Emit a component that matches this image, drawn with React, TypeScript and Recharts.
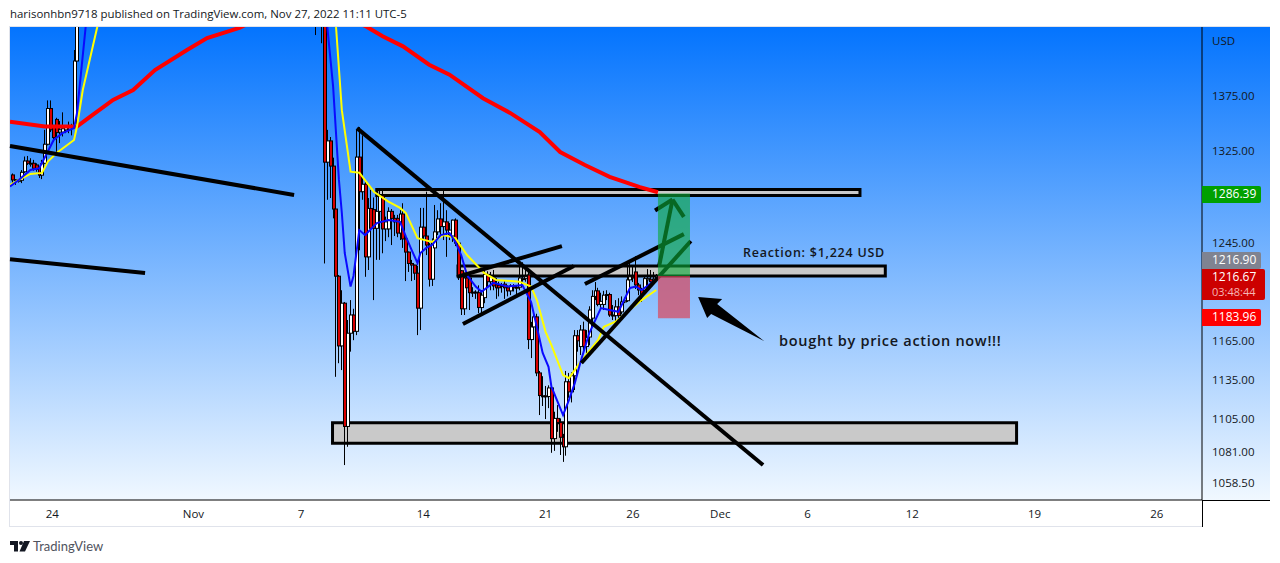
import React from 'react';
import {
  ComposedChart,
  Bar,
  Line,
  XAxis,
  YAxis,
  ReferenceArea,
  ReferenceLine,
  ReferenceDot,
} from 'recharts';

// 4h bars, [open, high, low, close]. Bars in between sit above the visible range.
const leftStart = 1;
const leftCandles = [
  [1302.7, 1304, 1294, 1298.3], [1298.3, 1299, 1294, 1298], [1298, 1299, 1296, 1298],
  [1298, 1307, 1295.5, 1305], [1305.5, 1319, 1304.5, 1315], [1315, 1319.5, 1311.5, 1313],
  [1313, 1317.5, 1310, 1313], [1313, 1316, 1306.5, 1308.5], [1311.5, 1313, 1305.5, 1307.5],
  [1308.5, 1310, 1300, 1302.5], [1302.5, 1316, 1299, 1312.5], [1313, 1343, 1312.5, 1330],
  [1330, 1370, 1329, 1362.5], [1362.5, 1370, 1341, 1343], [1346.5, 1347.5, 1332, 1336],
  [1352.5, 1354, 1323, 1340.5], [1341, 1351, 1331, 1343], [1341, 1359, 1337, 1344],
  [1343, 1347, 1340, 1346.5], [1346.5, 1350.5, 1340, 1346], [1346, 1348.5, 1338, 1346],
  [1346, 1417.5, 1345, 1407], [1407, 1450, 1405, 1445],
];

const midStart = 105;
const midCandles = [
  [1500, 1510, 1431.9, 1490], [1495, 1505, 1470, 1480], [1490, 1500, 1424, 1480],
  [1480, 1490, 1227, 1314], [1314, 1343, 1281, 1333], [1333, 1336.5, 1282.5, 1310.5],
  [1310.5, 1318, 1265, 1273], [1273, 1274, 1136.5, 1216.5], [1216.5, 1217.5, 1147, 1160.5],
  [1160.5, 1205, 1141.7, 1194.5], [1194.5, 1195.5, 1070.7, 1099], [1099, 1181, 1084, 1170.5],
  [1170.5, 1197, 1156, 1185], [1185, 1190, 1165, 1172], [1172, 1343, 1169, 1318.5],
  [1318.5, 1345.5, 1238, 1288], [1288, 1338, 1281, 1294.5], [1294.5, 1298, 1216, 1232.5],
  [1232.5, 1282.5, 1221.6, 1273.5], [1273.5, 1289.5, 1246.6, 1256.5], [1272.5, 1283, 1197, 1256.5],
  [1256.5, 1288, 1230, 1271], [1271, 1289.5, 1230, 1284.5], [1284.5, 1289.5, 1235.5, 1256],
  [1256, 1266.5, 1245.7, 1262], [1256, 1274.5, 1249, 1271], [1271, 1273, 1242.4, 1265],
  [1265, 1268, 1250, 1262], [1265, 1268, 1249, 1252.5], [1252.5, 1272, 1246.6, 1268.7],
  [1268.7, 1278, 1240, 1247.5], [1247.5, 1250, 1212.5, 1236.5], [1236.5, 1237, 1220, 1227],
  [1227, 1230, 1212.5, 1225.7], [1225.7, 1226, 1213.4, 1219], [1219, 1225, 1169, 1190.5],
  [1190.5, 1274, 1173, 1257.5], [1257.5, 1274, 1246.6, 1250], [1250, 1288, 1234, 1242.4],
  [1242.4, 1244, 1208, 1214], [1214, 1248, 1208.5, 1245], [1240, 1276.5, 1240, 1253.5],
  [1253.5, 1272, 1250.8, 1264.5], [1264.5, 1278, 1250.8, 1258], [1258, 1289.5, 1246.6, 1262],
  [1262, 1272, 1232.5, 1255], [1251, 1261, 1246.6, 1255], [1250, 1264, 1245, 1263.5],
  [1263.5, 1265, 1241.5, 1244], [1244, 1245, 1213.4, 1216], [1221, 1221.6, 1185, 1190],
  [1190, 1219.5, 1185, 1215], [1215, 1220, 1203.5, 1207], [1215, 1216.7, 1189, 1203],
  [1203.5, 1207.5, 1199.5, 1203], [1203, 1205, 1198, 1203.5], [1203, 1209, 1186.5, 1191],
  [1191, 1205, 1186.5, 1201], [1199, 1221.6, 1194.5, 1218], [1218, 1220.5, 1207.5, 1212],
  [1212, 1220, 1205, 1216], [1215, 1221.6, 1205, 1208.5], [1209.5, 1215, 1198, 1207],
  [1209, 1212, 1200, 1207], [1209, 1211, 1203, 1208], [1210, 1213, 1198, 1207],
  [1207, 1209, 1200, 1204.5], [1204.5, 1210, 1201, 1208.5], [1208, 1210, 1204, 1207],
  [1207.5, 1209, 1201, 1207], [1207.5, 1226, 1205, 1215], [1214.5, 1228, 1212, 1214.5],
  [1214.5, 1224, 1212, 1216], [1217.5, 1221.6, 1158, 1165.5], [1165.5, 1179.5, 1151, 1175.5],
  [1175.5, 1187.5, 1173, 1183.5], [1183.5, 1186, 1137, 1139.5], [1139.5, 1141, 1107.5, 1122.2],
  [1122, 1137, 1114.3, 1121.5], [1121.5, 1129.5, 1104.5, 1122], [1121.5, 1130, 1112.7, 1128],
  [1128, 1130, 1079.6, 1090], [1090, 1110, 1081, 1105], [1105, 1115, 1095, 1102],
  [1102, 1105, 1078, 1091], [1091, 1093.5, 1073, 1084], [1084, 1141, 1077.5, 1132.7],
  [1132.7, 1139.5, 1120.5, 1125], [1125, 1140, 1117, 1137.3], [1137.3, 1173, 1126.4, 1168.5],
  [1168.5, 1173, 1156, 1164.5], [1160, 1177, 1153.4, 1173], [1173, 1179.7, 1155.7, 1160],
  [1160, 1173, 1151, 1167], [1167.5, 1192, 1161, 1189], [1182.5, 1205, 1177, 1200],
  [1200, 1211.7, 1197, 1204.5], [1204.5, 1207, 1192, 1193.5], [1193.5, 1203, 1189, 1196],
  [1193.5, 1204.5, 1189, 1201], [1201, 1205, 1197, 1201.5], [1201.5, 1203, 1183.5, 1185],
  [1185, 1193, 1181, 1184.5], [1184.5, 1197, 1179.5, 1191.5], [1191.5, 1198.5, 1181, 1184.5],
  [1187.5, 1200, 1185.5, 1195.5], [1195.5, 1199, 1194.5, 1196.5], [1196.5, 1226.5, 1195.5, 1213.5],
  [1213.5, 1228, 1212.5, 1216], [1216, 1225.7, 1211.7, 1215], [1220, 1233, 1206, 1209.3],
  [1209.3, 1211, 1201, 1205.2], [1205.2, 1207, 1195.5, 1201], [1205, 1217.5, 1203, 1214.5],
  [1213.5, 1222.4, 1208.5, 1214.5], [1214, 1221.6, 1210, 1212], [1212, 1220, 1211, 1214],
  [1214, 1218.3, 1212.5, 1216.67],
];

// moving averages as [bar, price]
const slowMa = [
  [0, 1350.5], [12, 1346], [23, 1346], [27, 1354], [35.4, 1370.4], [42.3, 1379.7], [49.8, 1398.4],
  [60.8, 1417.5], [67.7, 1429], [79, 1439], [100, 1470], [122.5, 1440], [128, 1430.7], [135, 1421],
  [144, 1403.5], [151, 1394], [162.5, 1372], [171.8, 1358.5], [182, 1341], [189, 1323],
  [197.5, 1311.5], [206, 1301], [216.4, 1292], [222.6, 1287.5],
];
const blueMa = [
  [0, 1292.5], [3, 1298.3], [7, 1307], [10, 1308.5], [13, 1323.5], [15, 1333.8], [18, 1340],
  [22, 1344.6], [23, 1358.3], [26, 1440], [60, 1560], [100, 1520], [109, 1440], [111, 1383],
  [113, 1298.3], [114, 1269.6], [115, 1235.7], [117, 1208], [118, 1216.7], [120, 1255],
  [122, 1250.8], [126, 1261], [130, 1263.6], [134, 1262], [136, 1249.4], [138, 1238.2],
  [140, 1227.3], [141, 1235.7], [143, 1240], [145, 1242.4], [148, 1250.8], [151, 1252.5],
  [153, 1245], [155, 1234], [157, 1217.5], [160, 1208], [162, 1203.8], [166, 1211], [171, 1208],
  [176, 1209.3], [179, 1195.6], [181, 1175.4], [183, 1155], [185, 1144.2], [186, 1128.9],
  [190, 1107.5], [192, 1118.8], [194, 1131.5], [196, 1148], [199, 1170.6], [203, 1190.6],
  [206, 1189], [209, 1187.6], [213, 1206.9], [215, 1208], [217, 1205.2], [221, 1212],
];
const yellowMa = [
  [0, 1293.9], [3, 1298.3], [7, 1303.6], [11, 1304.5], [13, 1314.5], [16, 1322.2], [22, 1333.8],
  [23, 1345.8], [25, 1379.7], [30, 1440], [60, 1600], [95, 1560], [112, 1440], [114, 1361],
  [117, 1305.6], [120, 1304.7], [125, 1288], [130, 1279.4], [134, 1274], [136, 1269.6],
  [140, 1248.2], [145, 1245], [149, 1250.8], [153, 1248.2], [157, 1234], [163, 1219], [167, 1213.4],
  [175, 1212], [179, 1208], [181, 1197], [184, 1171.6], [186, 1161.2], [190, 1137.9], [192, 1135.5],
  [194, 1141.7], [196, 1148], [202, 1165], [204, 1175.6], [208, 1179.6], [217, 1197], [222, 1205.2],
];

// hand drawn trend lines: [bar, price, bar, price]
const trendLines = [
  [0, 1328.4, 97.6, 1285.2],
  [0, 1230.6, 46.4, 1219.1],
  [119.2, 1344.6, 258.7, 1070.7],
  [153.6, 1215.9, 189.6, 1241.5],
  [155.6, 1177.8, 193.7, 1224.9],
  [197.5, 1210.1, 231.5, 1251.6],
  [196.3, 1147.2, 233.9, 1245.8],
  [223, 1224.9, 227.6, 1281.2],
  [221.6, 1271.7, 227.6, 1281.2],
  [227.6, 1281.2, 231.5, 1266.2],
];
// [bar from, bar to, price low, price high]
const zones = [
  [126, 292, 1284.7, 1290],
  [153.9, 300.7, 1216.7, 1224.9],
  [110.8, 345.8, 1086.6, 1101.8],
];
const targetZone = [222.6, 233.6, 1216.67, 1286.39];
const stopZone = [222.6, 233.6, 1182.5, 1216.67];

const priceTicks = [1375, 1325, 1245, 1165, 1135, 1105, 1081, 1058.5];
const timeTicks = [14.5, 63, 100, 142, 184, 214, 244, 274, 310, 352, 394];
const timeLabels = ['24', 'Nov', '7', '14', '21', '26', 'Dec', '6', '12', '19', '26'];

const toRows = (list: number[][], start: number) =>
  list.map((c, i) => ({ bar: start + i, open: c[0], high: c[1], low: c[2], close: c[3], range: [c[2], c[1]] }));
const candleRows = [...toRows(leftCandles, leftStart), ...toRows(midCandles, midStart)];
const toLine = (list: number[][]) => list.map((p) => ({ bar: p[0], price: p[1] }));

const uiFont = '"Open Sans", sans-serif';

const Candle = (props: any) => {
  const { x, y, width, height, payload } = props;
  const { open, high, low, close } = payload;
  const at = (p: number) => y + (height * Math.log(high / p)) / Math.log(high / low);
  const c = Math.floor(x + width / 2);
  const top = at(Math.max(open, close));
  const bottom = at(Math.min(open, close));
  return (
    <g>
      <line x1={c + 0.5} x2={c + 0.5} y1={y} y2={y + height} stroke="#000" strokeWidth={1} />
      <rect
        x={c - 0.5}
        y={top}
        width={3}
        height={Math.max(bottom - top, 1)}
        fill={close >= open ? '#fff' : '#d80000'}
        stroke="#000"
        strokeWidth={1}
      />
    </g>
  );
};

const BigArrow = ({ cx, cy }: any) => (
  <polygon
    points={`${cx},${cy} ${cx + 24},${cy + 2} ${cx + 19},${cy + 7} ${cx + 66},${cy + 44} ${cx + 13},${cy + 17} ${cx + 9},${cy + 21}`}
    fill="#000"
  />
);

const note = (text: string, size: number, spacing: number) => ({ cx, cy }: any) => (
  <text x={cx} y={cy} fontFamily={uiFont} fontWeight={600} fontSize={size} letterSpacing={spacing} fill="#131722">
    {text}
  </text>
);

const tagStyle = (top: number, height: number, width: number, background: string): React.CSSProperties => ({
  position: 'absolute',
  left: 1202,
  top,
  width,
  height,
  background,
  color: '#fff',
  fontFamily: uiFont,
  fontWeight: 500,
  fontSize: 12,
  lineHeight: '16px',
  paddingLeft: 10,
  boxSizing: 'border-box',
  borderRadius: '0 2px 2px 0',
});

export default function App() {
  return (
    <div style={{ position: 'absolute', left: 0, top: 0, width: 1280, height: 563, background: '#fff', overflow: 'hidden' }}>
      <div style={{ position: 'absolute', left: 10, top: 6, fontFamily: uiFont, fontSize: 11.44, color: '#131722', lineHeight: '16px', whiteSpace: 'nowrap' }}>
        harisonhbn9718 published on TradingView.com, Nov 27, 2022 11:11 UTC-5
      </div>
      <div style={{ position: 'absolute', left: 9, top: 26, width: 1261, height: 501, border: '1px solid #e0e3eb', boxSizing: 'border-box' }} />
      <div style={{ position: 'absolute', left: 10, top: 27, width: 1260, height: 473, background: 'linear-gradient(180deg, #0474fe 0%, #f0f8ff 100%)' }} />

      <ComposedChart
        width={1280}
        height={563}
        data={candleRows}
        margin={{ top: 27, right: 10, bottom: 36, left: 10 }}
        style={{ position: 'absolute', left: 0, top: 0 }}
      >
        <XAxis
          dataKey="bar"
          type="number"
          domain={[0, 409.5]}
          allowDataOverflow
          ticks={timeTicks}
          interval={0}
          height={27}
          tickLine={false}
          axisLine={{ stroke: '#000', strokeWidth: 1 }}
          tick={{ fill: '#131722', fontSize: 11.5, fontFamily: uiFont, dy: 2 }}
          tickFormatter={(v: number) => timeLabels[timeTicks.indexOf(v)]}
        />
        <YAxis
          orientation="right"
          type="number"
          scale="log"
          domain={[1045.7, 1439.7]}
          allowDataOverflow
          ticks={priceTicks}
          interval={0}
          width={68}
          tickLine={false}
          axisLine={{ stroke: '#000', strokeWidth: 1 }}
          tick={{ fill: '#131722', fontSize: 11.5, fontFamily: uiFont, textAnchor: 'start', dx: 2, dy: 1 }}
          tickFormatter={(v: number) => v.toFixed(2)}
        />

        {zones.map((z, i) => (
          <ReferenceArea key={i} x1={z[0]} x2={z[1]} y1={z[2]} y2={z[3]} fill="#c9c9c9" fillOpacity={1} stroke="#000" strokeWidth={3} />
        ))}

        <Bar dataKey="range" barSize={3} shape={Candle} isAnimationActive={false} />

        <Line data={toLine(slowMa)} dataKey="price" stroke="#ff0000" strokeWidth={4} dot={false} type="linear" isAnimationActive={false} />
        <Line data={toLine(yellowMa)} dataKey="price" stroke="#ffff00" strokeWidth={2} dot={false} type="linear" isAnimationActive={false} />
        <Line data={toLine(blueMa)} dataKey="price" stroke="#0a0aff" strokeWidth={2} dot={false} type="linear" isAnimationActive={false} />

        {trendLines.map((t, i) => (
          <ReferenceLine key={i} segment={[{ x: t[0], y: t[1] }, { x: t[2], y: t[3] }]} stroke="#000" strokeWidth={4} />
        ))}

        <ReferenceArea zIndex={900} x1={targetZone[0]} x2={targetZone[1]} y1={targetZone[2]} y2={targetZone[3]} fill="#0ca838" fillOpacity={0.62} stroke="none" />
        <ReferenceArea zIndex={900} x1={stopZone[0]} x2={stopZone[1]} y1={stopZone[2]} y2={stopZone[3]} fill="#dc465a" fillOpacity={0.7} stroke="none" />

        <ReferenceDot x={236.4} y={1199.5} shape={BigArrow} />
        <ReferenceDot x={251.8} y={1232} shape={note('Reaction: $1,224 USD', 12.5, 0.75)} />
        <ReferenceDot x={264.2} y={1160.5} shape={note('bought by price action now!!!', 14.5, 0.7)} />
      </ComposedChart>

      <div style={{ position: 'absolute', left: 1202, top: 500, width: 68, height: 27, background: '#fff', borderTop: '1px solid #000', borderLeft: '1px solid #000', boxSizing: 'border-box' }} />
      <div style={{ position: 'absolute', left: 1212, top: 33, fontFamily: uiFont, fontSize: 11.5, lineHeight: '16px', color: '#131722' }}>USD</div>

      <div style={tagStyle(186, 17, 59, '#00a000')}>1286.39</div>
      <div style={tagStyle(252, 17, 59, '#7f8391')}>1216.90</div>
      <div style={{ ...tagStyle(269, 31, 63, '#cc0000'), lineHeight: '15px' }}>
        1216.67
        <div style={{ color: '#f5b5b5', fontSize: 11, lineHeight: '16px' }}>03:48:44</div>
      </div>
      <div style={tagStyle(309, 17, 59, '#ff0000')}>1183.96</div>

      <svg style={{ position: 'absolute', left: 10, top: 541 }} width={20} height={11} viewBox="0 0 20 11">
        <path d="M0 0h8v10.5H4V4H0z M14 0h6l-5 10.5H9.5z" fill="#131722" />
        <circle cx="11" cy="2" r="2" fill="#131722" />
      </svg>
      <div style={{ position: 'absolute', left: 33, top: 538, fontFamily: 'Lato, sans-serif', fontSize: 13, lineHeight: '16px', color: '#50535e' }}>TradingView</div>
    </div>
  );
}
